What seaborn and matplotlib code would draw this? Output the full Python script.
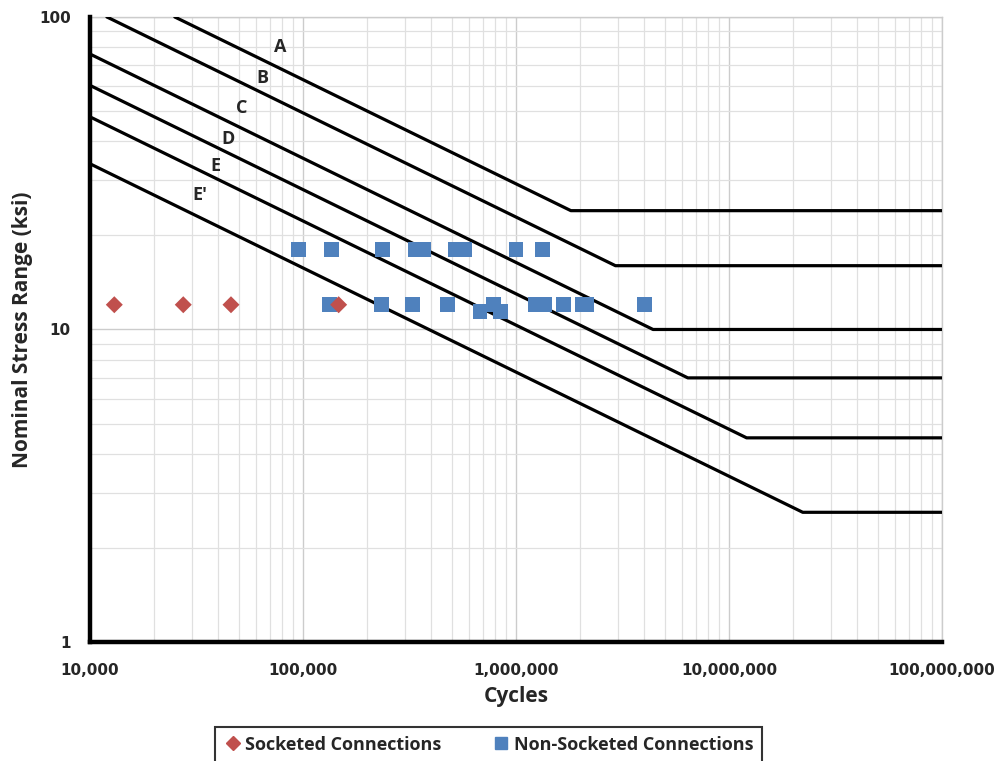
import numpy as np
import pandas as pd
import matplotlib
matplotlib.use('Agg')
import matplotlib.pyplot as plt
import seaborn as sns
from matplotlib.ticker import FixedLocator, LogLocator, NullFormatter, FuncFormatter
from matplotlib.lines import Line2D

# fatigue categories: start point, knee point, end of threshold line
curve_names = ['A', 'B', 'C', 'D', 'E', "E'"]
start_N = [2.5e4, 1.2e4, 1e4, 1e4, 1e4, 1e4]
start_S = [100, 100, 76.1, 60.4, 47.9, 33.9]
knee_N = [1.81e6, 2.93e6, 4.4e6, 6.41e6, 1.21e7, 2.22e7]
threshold_S = [24, 16, 10, 7, 4.5, 2.6]
end_N = 1e8

# label positions for the category letters
label_N = [7.8e4, 6.42e4, 5.17e4, 4.44e4, 3.90e4, 3.28e4]
label_S = [80.2, 63.8, 51.2, 40.7, 33.4, 26.9]

# test data
sock_N = [1.30e4, 2.74e4, 4.59e4, 1.47e5]
sock_S = [12, 12, 12, 12]

nonsock_N = [9.5e4, 1.36e5, 2.36e5, 3.35e5, 3.70e5, 5.21e5, 5.72e5, 1.0e6, 1.33e6,
             1.33e5, 2.34e5, 3.26e5, 4.78e5, 6.78e5, 7.82e5, 8.48e5, 1.23e6, 1.37e6,
             1.67e6, 2.05e6, 2.15e6, 4.0e6]
nonsock_S = [18, 18, 18, 18, 18, 18, 18, 18, 18,
             12, 12, 12, 12, 11.4, 12, 11.4, 12, 12,
             12, 12, 12, 12]

sns.set_style('white')
plt.rcParams['font.family'] = ['Open Sans', 'DejaVu Sans']

fig = plt.figure(figsize=(9.97, 7.61), dpi=100)
ax = fig.add_axes([0.0903, 0.1564, 0.8545, 0.8213])

ax.set_xscale('log')
ax.set_yscale('log')
ax.set_xlim(1e4, 1e8)
ax.set_ylim(1, 100)

for i, name in enumerate(curve_names):
    df_c = pd.DataFrame({'N': [start_N[i], knee_N[i], end_N],
                         'S': [start_S[i], threshold_S[i], threshold_S[i]]})
    sns.lineplot(data=df_c, x='N', y='S', ax=ax, color='black', linewidth=2.3,
                 sort=False, estimator=None, zorder=3)
    ax.text(label_N[i], label_S[i], name, fontsize=13, fontweight='bold',
            ha='center', va='center', zorder=4)

df_ns = pd.DataFrame({'N': nonsock_N, 'S': nonsock_S})
df_s = pd.DataFrame({'N': sock_N, 'S': sock_S})
sns.scatterplot(data=df_ns, x='N', y='S', ax=ax, marker='s', s=110, color='#4f81bd',
                edgecolor='none', zorder=5)
sns.scatterplot(data=df_s, x='N', y='S', ax=ax, marker='D', s=75, color='#c0504d',
                edgecolor='none', zorder=6)

ax.xaxis.set_major_locator(FixedLocator([1e4, 1e5, 1e6, 1e7, 1e8]))
ax.xaxis.set_minor_locator(LogLocator(base=10, subs=np.arange(2, 10)))
ax.yaxis.set_major_locator(FixedLocator([1, 10, 100]))
ax.yaxis.set_minor_locator(LogLocator(base=10, subs=np.arange(2, 10)))
ax.xaxis.set_minor_formatter(NullFormatter())
ax.yaxis.set_minor_formatter(NullFormatter())
ax.xaxis.set_major_formatter(FuncFormatter(lambda v, p: f'{int(round(v)):,}'))
ax.yaxis.set_major_formatter(FuncFormatter(lambda v, p: f'{int(round(v))}'))

ax.grid(True, which='major', color='#cccccc', linewidth=1.0)
ax.grid(True, which='minor', color='#e0e0e0', linewidth=0.9)
ax.set_axisbelow(True)

ax.tick_params(axis='x', which='both', length=0, pad=15)
ax.tick_params(axis='y', which='both', length=0, pad=14)
for lab in ax.get_xticklabels() + ax.get_yticklabels():
    lab.set_fontweight('bold')
    lab.set_fontsize(11)
    lab.set_family('DejaVu Sans')

for side in ['left', 'bottom']:
    ax.spines[side].set_color('black')
    ax.spines[side].set_linewidth(3.2)
    ax.spines[side].set_zorder(7)
for side in ['top', 'right']:
    ax.spines[side].set_color('#cccccc')
    ax.spines[side].set_linewidth(1.0)

ax.set_xlabel('Cycles', fontsize=15, fontweight='bold', labelpad=6)
ax.set_ylabel('Nominal Stress Range (ksi)', fontsize=15, fontweight='bold', labelpad=4)

handles = [Line2D([], [], marker='D', linestyle='none', color='#c0504d', markersize=7),
           Line2D([], [], marker='s', linestyle='none', color='#4f81bd', markersize=9)]
leg = fig.legend(handles, ['Socketed Connections', 'Non-Socketed Connections'],
                 loc='lower center', bbox_to_anchor=(0.49, -0.014), ncol=2,
                 frameon=True, fancybox=False, edgecolor='black', handletextpad=0.2,
                 columnspacing=2.8, borderpad=0.5, handlelength=1.0,
                 prop={'weight': 'bold', 'size': 13})
leg.get_frame().set_linewidth(1.5)

fig.savefig('out.png', dpi=100)
